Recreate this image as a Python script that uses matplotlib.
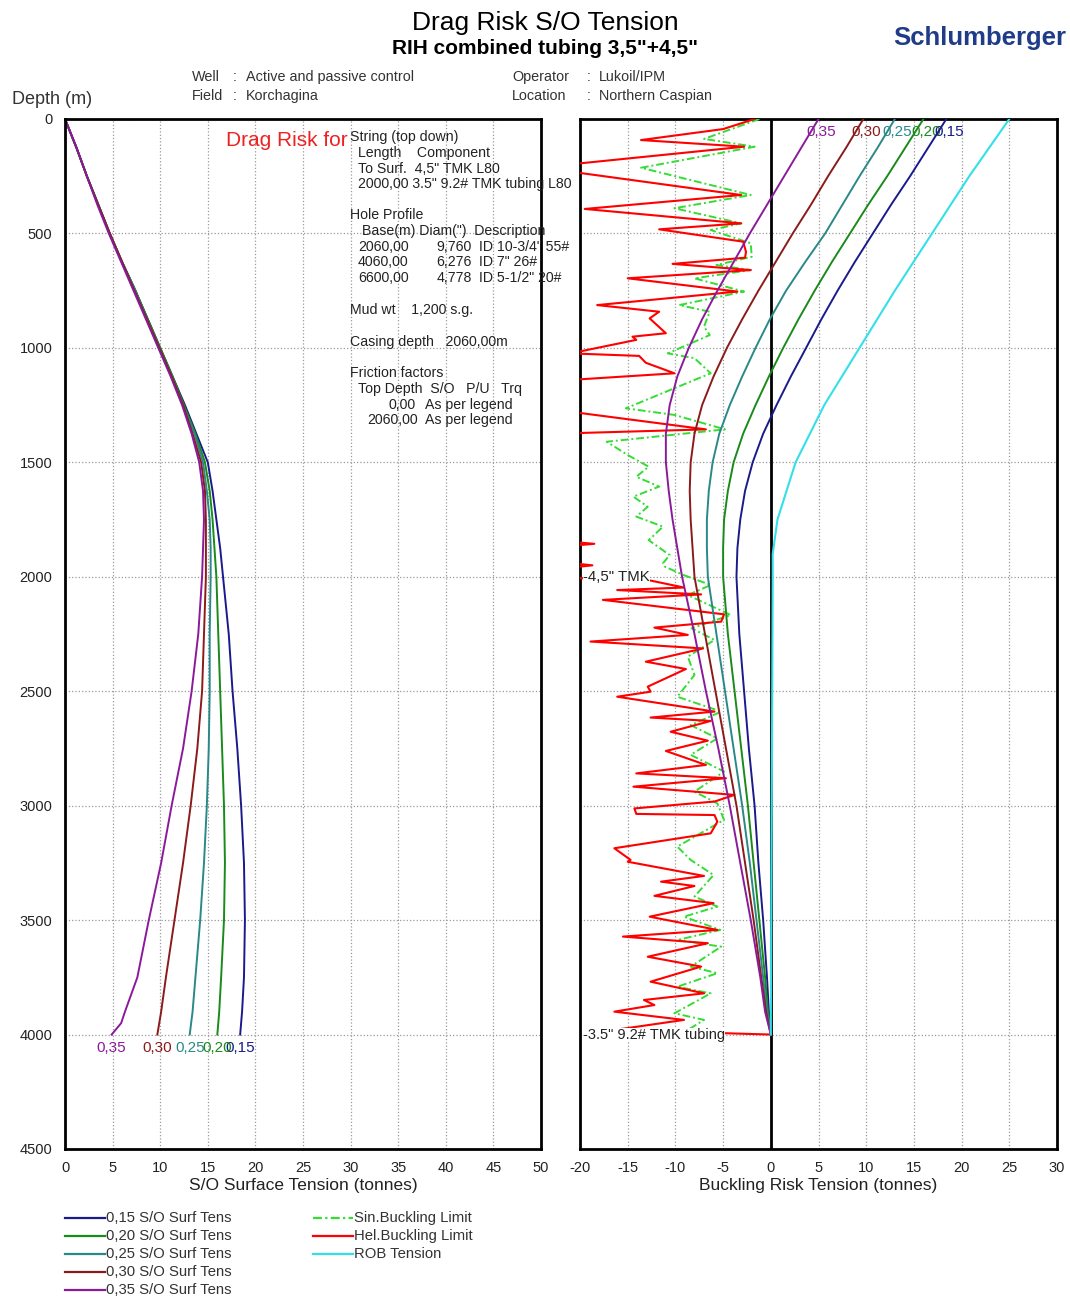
import matplotlib
matplotlib.use('Agg')
import matplotlib.pyplot as plt
from matplotlib.lines import Line2D

plt.rcParams['font.family'] = ['Liberation Sans', 'DejaVu Sans']
plt.rcParams['axes.unicode_minus'] = False

W, H = 1070, 1297

# ---- data ----
depth = [0, 125, 250, 375, 500, 625, 750, 875, 1000, 1125, 1250, 1375, 1500, 1625, 1750,
         1875, 2000, 2250, 2500, 2750, 3000, 3250, 3500, 3750, 3900, 3950, 4000]
friction = ['0,15', '0,20', '0,25', '0,30', '0,35']

# S/O surface tension (tonnes) vs depth
so_015 = [0, 1.2, 2.3, 3.5, 4.7, 6.0, 7.4, 8.7, 10.0, 11.3, 12.6, 13.8, 15.0, 15.5, 15.9,
          16.3, 16.6, 17.2, 17.6, 18.1, 18.5, 18.8, 18.9, 18.8, 18.6, 18.5, 18.4]
so_020 = [0, 1.2, 2.3, 3.5, 4.7, 6.0, 7.4, 8.7, 10.0, 11.3, 12.5, 13.7, 14.7, 15.2, 15.5,
          15.7, 15.9, 16.1, 16.3, 16.5, 16.7, 16.8, 16.7, 16.4, 16.2, 16.1, 16.0]
so_025 = [0, 1.2, 2.3, 3.5, 4.7, 6.0, 7.4, 8.6, 9.9, 11.2, 12.4, 13.6, 14.5, 14.9, 15.2,
          15.3, 15.3, 15.2, 15.2, 15.1, 14.9, 14.6, 14.2, 13.7, 13.4, 13.25, 13.1]
so_030 = [0, 1.2, 2.3, 3.5, 4.7, 6.0, 7.3, 8.6, 9.9, 11.2, 12.4, 13.4, 14.3, 14.7, 14.8,
          14.8, 14.8, 14.6, 14.4, 13.9, 13.2, 12.4, 11.5, 10.6, 10.1, 9.9, 9.7]
so_035 = [0, 1.2, 2.3, 3.4, 4.6, 5.9, 7.2, 8.5, 9.8, 11.1, 12.3, 13.3, 14.1, 14.5, 14.6,
          14.5, 14.4, 14.0, 13.3, 12.4, 11.2, 10.1, 8.8, 7.6, 6.3, 5.9, 4.9]

# buckling risk tension (tonnes) vs depth
br_015 = [18.4, 16.5, 14.6, 12.6, 10.7, 8.8, 7.0, 5.3, 3.7, 2.1, 0.6, -0.8, -1.9, -2.7, -3.2,
          -3.5, -3.6, -3.3, -2.8, -2.3, -1.7, -1.3, -0.8, -0.4, -0.2, -0.1, 0]
br_020 = [16.0, 14.1, 12.2, 10.2, 8.3, 6.4, 4.6, 2.9, 1.3, -0.2, -1.6, -2.9, -3.9, -4.5, -4.9,
          -5.0, -5.0, -4.5, -3.8, -3.1, -2.4, -1.8, -1.2, -0.6, -0.3, -0.15, 0]
br_025 = [13.0, 11.2, 9.3, 7.5, 5.7, 3.6, 1.6, -0.1, -1.6, -3.0, -4.3, -5.4, -6.1, -6.5, -6.7,
          -6.7, -6.6, -5.7, -4.8, -3.9, -3.0, -2.2, -1.5, -0.8, -0.4, -0.2, 0]
br_030 = [9.7, 7.9, 6.0, 4.2, 2.3, 0.5, -1.3, -3.0, -4.6, -6.0, -7.2, -8.0, -8.4, -8.5, -8.4,
          -8.2, -8.0, -6.9, -5.8, -4.7, -3.6, -2.7, -1.8, -1.0, -0.5, -0.25, 0]
br_035 = [5.0, 3.2, 1.4, -0.4, -2.2, -3.9, -5.6, -7.2, -8.6, -9.8, -10.6, -11.0, -11.0, -10.7,
          -10.3, -9.8, -9.3, -8.0, -6.8, -5.5, -4.3, -3.2, -2.1, -1.1, -0.6, -0.3, 0]

rob_depth = [0, 250, 500, 750, 1000, 1250, 1500, 1750, 1900, 2000, 4000]
rob_tens = [25.0, 20.8, 16.9, 13.0, 9.3, 5.6, 2.6, 0.7, 0.2, 0.2, 0.0]

# helical buckling limit (values below -20 run off the axis)
hel_depth = [0, 44, 92, 121, 198, 230, 332, 393, 456, 482, 536, 580, 606, 633, 660, 696, 754, 813,
             842, 871, 936, 951, 965, 1024, 1035, 1065, 1111, 1140, 1279, 1356, 1373, 1847, 1856,
             1865, 1940, 1950, 1960, 2005, 2014, 2047, 2058, 2077, 2101, 2164, 2196, 2222, 2254,
             2283, 2313, 2371, 2403, 2480, 2502, 2524, 2589, 2615, 2630, 2677, 2716, 2761, 2822,
             2859, 2880, 2917, 2953, 2982, 3012, 3036, 3041, 3070, 3121, 3186, 3237, 3245, 3307,
             3332, 3351, 3394, 3426, 3485, 3543, 3572, 3601, 3660, 3703, 3769, 3820, 3849, 3871,
             3900, 3936, 3980, 4000]
hel_lim = [-1.7, -5.0, -13.6, -2.8, -21, -21, -3.1, -19.5, -3.1, -11.7, -2.9, -2.6, -2.7, -10.3,
           -2.1, -15.0, -3.5, -18.2, -11.7, -12.7, -11.0, -14.5, -14.1, -21, -13.8, -13.1, -10.1,
           -21, -21, -6.8, -21, -21, -18.5, -21, -21, -18.7, -21, -21, -12.9, -9.1, -16.1, -7.3,
           -17.6, -4.9, -5.2, -12.2, -8.7, -18.9, -7.1, -13.1, -8.9, -12.9, -12.6, -16.1, -5.9,
           -12.6, -6.3, -10.5, -6.6, -11.0, -6.8, -14.1, -4.7, -14.4, -3.8, -5.9, -14.3, -14.1,
           -5.9, -5.6, -6.3, -16.4, -14.7, -15.0, -7.0, -11.5, -8.0, -12.2, -6.0, -12.7, -5.6,
           -15.5, -6.6, -12.9, -7.3, -12.6, -7.0, -13.3, -12.2, -16.4, -9.1, -16.4, 0]

# sinusoidal buckling limit
sin_depth = [0, 87, 121, 213, 332, 390, 456, 485, 543, 602, 638, 660, 696, 754, 813, 842, 907, 944,
             1024, 1045, 1111, 1264, 1293, 1356, 1410, 1468, 1519, 1563, 1606, 1650, 1694, 1737,
             1781, 1840, 1905, 1941, 1956, 1993, 2036, 2080, 2167, 2225, 2276, 2349, 2429, 2524,
             2589, 2648, 2706, 2778, 2851, 2939, 2990, 3062, 3179, 3237, 3303, 3397, 3441, 3485,
             3543, 3587, 3616, 3703, 3732, 3791, 3820, 3907, 3936, 3980]
sin_lim = [-1.2, -7.0, -1.7, -13.6, -2.1, -10.1, -3.1, -6.3, -2.1, -2.0, -5.7, -2.1, -8.0, -2.8,
           -9.6, -6.4, -7.0, -6.4, -10.8, -8.0, -6.3, -15.2, -10.1, -4.8, -17.2, -15.0, -12.8,
           -14.1, -11.7, -14.4, -12.9, -14.1, -11.3, -12.8, -10.6, -11.3, -11.1, -9.1, -6.3, -8.7,
           -4.2, -8.3, -5.9, -8.7, -8.0, -9.8, -5.2, -8.4, -5.6, -8.4, -4.9, -8.0, -5.6, -4.9,
           -9.8, -8.4, -6.0, -8.0, -5.6, -9.1, -5.3, -9.8, -5.2, -8.4, -5.6, -9.8, -6.3, -10.1,
           -7.0, -8.7]

colors = ['#1a1a8c', '#1a8a1a', '#2a8888', '#8b1a1a', '#8b1a9b']
so_curves = [so_015, so_020, so_025, so_030, so_035]
br_curves = [br_015, br_020, br_025, br_030, br_035]
DASHDOT = (0, (4, 1.5, 1, 1.5))


def fxy(x, y):
    return x / W, 1 - y / H


fig = plt.figure(figsize=(W / 100, H / 100), dpi=100)

ax1 = fig.add_axes([65 / W, 1 - 1149 / H, 476 / W, 1030 / H])
ax2 = fig.add_axes([580 / W, 1 - 1149 / H, 477 / W, 1030 / H])

for ax in (ax1, ax2):
    ax.set_ylim(4500, 0)
    ax.set_yticks(range(0, 4501, 500))
    ax.grid(True, linestyle=':', color='#9a9a9a', linewidth=0.9)
    ax.tick_params(length=0, labelsize=10.5, pad=9, colors='#222222')
    for s in ax.spines.values():
        s.set_linewidth(2)
        s.set_color('black')

ax1.set_xlim(0, 50)
ax1.set_xticks(range(0, 51, 5))
ax2.set_xlim(-20, 30)
ax2.set_xticks(range(-20, 31, 5))
ax2.set_yticklabels([])

# left panel
for vals, c, lab in zip(so_curves, colors, friction):
    ax1.plot(vals, depth, color=c, lw=1.4)
    ax1.annotate(lab, (vals[-1], depth[-1]), xytext=(0, -9.5), textcoords='offset points',
                 ha='center', va='center', color=c, fontsize=11)

ax1.set_xlabel('S/O Surface Tension (tonnes)', fontsize=12.5, labelpad=2, color='#222222')

# right panel
ax2.axvline(0, color='black', lw=2, zorder=2)
ax2.plot(sin_lim, sin_depth, color='#33dd33', lw=1.4, linestyle=DASHDOT, zorder=3)
ax2.plot(hel_lim, hel_depth, color='#ff0000', lw=1.5, zorder=4)
for vals, c, lab in zip(br_curves, colors, friction):
    ax2.plot(vals, depth, color=c, lw=1.4, zorder=5)
    ax2.text(vals[0] + 0.3, 57, lab, ha='center', va='center', color=c, fontsize=11)
ax2.plot(rob_tens, rob_depth, color='#33e0e8', lw=1.5, zorder=6)

ax2.text(-19.7, 2000, '-4,5" TMK', fontsize=10.8, ha='left', va='center', color='#222222',
         zorder=7, bbox=dict(facecolor='white', edgecolor='none', pad=0))
ax2.text(-19.7, 4000, '-3.5" 9.2# TMK tubing', fontsize=10.5, ha='left', va='center',
         color='#222222', zorder=7, bbox=dict(facecolor='white', edgecolor='none', pad=0))
ax2.set_xlabel('Buckling Risk Tension (tonnes)', fontsize=12.5, labelpad=2, color='#222222')

# titles and header
fig.text(*fxy(545, 23), 'Drag Risk S/O Tension', fontsize=19, ha='center', va='center')
fig.text(*fxy(545, 48), 'RIH combined tubing 3,5"+4,5"', fontsize=15, fontweight='bold',
         ha='center', va='center')
fig.text(*fxy(980, 38), 'Schlumberger', fontsize=18.5, fontweight='bold', ha='center',
         va='center', color='#1f3c88')

hdr = dict(fontsize=10.4, va='center', color='#333333')
for x, y, s in [(192, 77, 'Well'), (233, 77, ':'), (246, 77, 'Active and passive control'),
                (192, 96, 'Field'), (233, 96, ':'), (246, 96, 'Korchagina'),
                (512, 77, 'Operator'), (587, 77, ':'), (599, 77, 'Lukoil/IPM'),
                (512, 96, 'Location'), (587, 96, ':'), (599, 96, 'Northern Caspian')]:
    fig.text(*fxy(x, y), s, **hdr)
fig.text(*fxy(12, 99), 'Depth (m)', fontsize=13, va='center', color='#333333')

# info block inside left panel
fig.text(*fxy(226, 141), 'Drag Risk for', fontsize=15, color='#ee2222', va='center')
info = [
    (350, 137, 'String (top down)'),
    (358, 153, 'Length    Component'),
    (358, 169, 'To Surf.  4,5" TMK L80'),
    (358, 184, '2000,00 3.5" 9.2# TMK tubing L80'),
    (350, 215, 'Hole Profile'),
    (362, 231, 'Base(m) Diam(")  Description'),
    (358, 247, '2060,00'), (479, 247, 'ID 10-3/4" 55#'),
    (358, 262, '4060,00'), (479, 262, 'ID 7" 26#'),
    (358, 278, '6600,00'), (479, 278, 'ID 5-1/2" 20#'),
    (350, 310, 'Mud wt    1,200 s.g.'),
    (350, 342, 'Casing depth   2060,00m'),
    (350, 373, 'Friction factors'),
    (358, 389, 'Top Depth  S/O   P/U   Trq'),
    (425, 405, 'As per legend'),
    (425, 420, 'As per legend'),
]
for x, y, s in info:
    fig.text(*fxy(x, y), s, fontsize=10.2, va='center', color='#222222')
for x, y, s in [(472, 247, '9,760'), (472, 262, '6,276'), (472, 278, '4,778'),
                (416, 405, '0,00'), (418, 420, '2060,00')]:
    fig.text(*fxy(x, y), s, fontsize=10.2, va='center', ha='right', color='#222222')

# legend
leg1 = [(c, f + ' S/O Surf Tens', '-') for c, f in zip(colors, friction)]
leg2 = [('#33dd33', 'Sin.Buckling Limit', DASHDOT),
        ('#ff0000', 'Hel.Buckling Limit', '-'),
        ('#33e0e8', 'ROB Tension', '-')]
for x0, items in ((65, leg1), (313, leg2)):
    for i, (c, lab, ls) in enumerate(items):
        y = 1218 + 18 * i
        fig.add_artist(Line2D([x0 / W, (x0 + 40) / W], [1 - y / H, 1 - y / H], color=c,
                              lw=1.6, linestyle=ls, transform=fig.transFigure))
        fig.text(*fxy(x0 + 41, y), lab, fontsize=10.7, va='center', color='#333333')

fig.savefig('out.png', dpi=100)
